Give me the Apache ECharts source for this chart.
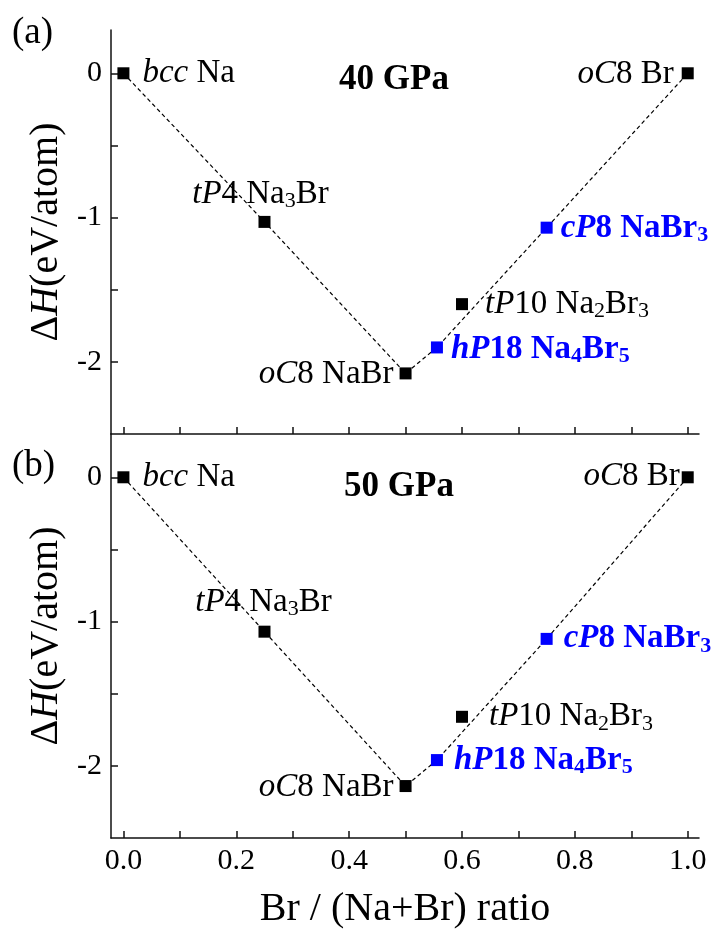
<!DOCTYPE html>
<html><head><meta charset="utf-8">
<script src="https://cdn.jsdelivr.net/npm/echarts@6/dist/echarts.min.js"></script>
<style>html,body{margin:0;padding:0;background:#fff}#c{width:714px;height:935px}</style>
</head><body><div id="c"></div>
<script>
// ---- data ----
const ratio   = [0, 0.25, 0.5, 0.5556, 0.6, 0.75, 1.0];
const dH40    = [0, -1.03, -2.08, -1.90, -1.60, -1.07, 0];
const dH50    = [0, -1.07, -2.14, -1.96, -1.66, -1.12, 0];
const onHull  = [true, true, true, true, false, true, true];
const isNew   = [false, false, false, true, false, true, false];
const phaseLabels = [
  '{i|bcc} Na',
  '{i|tP}4 Na{s|3}Br',
  '{i|oC}8 NaBr',
  '{bi|hP}{b|18 Na}{bs|4}{b|Br}{bs|5}',
  '{i|tP}10 Na{s|2}Br{s|3}',
  '{bi|cP}{b|8 NaBr}{bs|3}',
  '{i|oC}8 Br'
];
const xTickValues  = [0, 0.1, 0.2, 0.3, 0.4, 0.5, 0.6, 0.7, 0.8, 0.9, 1.0];
const xLabelValues = [0, 0.2, 0.4, 0.6, 0.8, 1.0];
const yTickValues  = [0, -0.5, -1, -1.5, -2];
const yLabelValues = [0, -1, -2];
const panelTitles  = ['40 GPa', '50 GPa'];
const panelTags    = ['(a)', '(b)'];
const xName = 'Br / (Na+Br) ratio';

// ---- styles / layout ----
const FONT = '"Liberation Serif", "Times New Roman", serif';
const BLUE = '#0000ff';
const labelLayout = [
  [ {p:'right',d:13,o:[0,0]}, {p:'top',d:4,o:[-4,0]}, {p:'left',d:6,o:[0,1]},
    {p:'right',d:8,o:[0,2]}, {p:'right',d:17,o:[0,0]}, {p:'right',d:8,o:[0,1]}, {p:'left',d:8,o:[0,1]} ],
  [ {p:'right',d:13,o:[0,0]}, {p:'top',d:5,o:[-1,0]}, {p:'left',d:6,o:[0,1]},
    {p:'right',d:11,o:[0,0]}, {p:'right',d:21,o:[0,0]}, {p:'right',d:11,o:[0,0]}, {p:'left',d:2,o:[0,-1]} ]
];
function richFor(color){
  return {
    i:{fontFamily:FONT,fontSize:33,fontStyle:'italic',color:color,lineHeight:36},
    s:{fontFamily:FONT,fontSize:22,color:color,lineHeight:31,verticalAlign:'bottom'},
    b:{fontFamily:FONT,fontSize:33,fontWeight:'bold',color:color,lineHeight:36},
    bi:{fontFamily:FONT,fontSize:33,fontWeight:'bold',fontStyle:'italic',color:color,lineHeight:36},
    bs:{fontFamily:FONT,fontSize:22,fontWeight:'bold',color:color,lineHeight:31,verticalAlign:'bottom'}
  };
}
const grids = [
  {left:111, width:588, top:30, height:404},
  {left:111, width:588, top:434, height:404}
];
const axisLineStyle = {color:'#111', width:1.5};

const xAxes = [0,1].map(g => ({
  type:'value', gridIndex:g, min:-0.022, max:1.02,
  axisLine:{show:true, onZero:false, lineStyle:axisLineStyle},
  axisTick:{show:true, inside:true, length:7, customValues:xTickValues, lineStyle:axisLineStyle},
  axisLabel:{show:g===1, customValues:xLabelValues, margin:8,
    fontFamily:FONT, fontSize:30, color:'#000',
    formatter:v=>v.toFixed(1)},
  splitLine:{show:false},
  name: g===1 ? xName : '', nameLocation:'middle', nameGap:51,
  nameTextStyle:{fontFamily:FONT, fontSize:40, color:'#000'}
}));
const yAxes = [0,1].map(g => ({
  type:'value', gridIndex:g, min:-2.5, max:0.3,
  axisLine:{show:true, onZero:false, lineStyle:axisLineStyle},
  axisTick:{show:true, inside:true, length:7, customValues:yTickValues, lineStyle:axisLineStyle},
  axisLabel:{show:true, customValues:yLabelValues, margin:9,
    fontFamily:FONT, fontSize:30, color:'#000', formatter:v=>String(v)},
  splitLine:{show:false},
  name:'{n|Δ}{i|H}{n|(eV/atom)}', nameLocation:'middle', nameGap:43,
  nameTextStyle:{fontFamily:FONT, fontSize:40, color:'#000', rich:{
    n:{fontFamily:FONT, fontSize:40, color:'#000'},
    i:{fontFamily:FONT, fontSize:40, fontStyle:'italic', color:'#000'}
  }}
}));

const series = [];
[dH40, dH50].forEach((vals, g) => {
  series.push({
    type:'line', xAxisIndex:g, yAxisIndex:g, symbol:'none', silent:true, z:1,
    lineStyle:{color:'#000', width:1.2, type:[4,3], opacity:1},
    data: ratio.map((x,i)=>[x, vals[i]]).filter((_,i)=>onHull[i])
  });
  series.push({
    type:'scatter', xAxisIndex:g, yAxisIndex:g, symbol:'rect', symbolSize:12, z:3,
    itemStyle:{opacity:1},
    data: ratio.map((x,i)=>{
      const lay = labelLayout[g][i];
      const col = isNew[i] ? BLUE : '#000';
      return {
        value:[x, vals[i]],
        itemStyle:{color:col, opacity:1},
        label:{show:true, position:lay.p, distance:lay.d, offset:lay.o,
          formatter: phaseLabels[i], opacity:1,
          fontFamily:FONT, fontSize:33, lineHeight:36,
          fontWeight: isNew[i] ? 'bold' : 'normal',
          color:col, rich:richFor(col)}
      };
    })
  });
});

const graphic = [
  {type:'text', left:12, top:15, style:{text:panelTags[0], font:'37px '+FONT, fill:'#000'}},
  {type:'text', left:12, top:448, style:{text:panelTags[1], font:'37px '+FONT, fill:'#000'}},
  {type:'text', x:394, y:80, style:{text:panelTitles[0], font:'bold 35px '+FONT, fill:'#000', align:'center', verticalAlign:'middle'}},
  {type:'text', x:399, y:487, style:{text:panelTitles[1], font:'bold 35px '+FONT, fill:'#000', align:'center', verticalAlign:'middle'}}
];

const chart = echarts.init(document.getElementById('c'), null, {renderer:'canvas'});
chart.setOption({
  backgroundColor:'#fff', animation:false,
  grid:grids, xAxis:xAxes, yAxis:yAxes, series:series, graphic:graphic
});
</script></body></html>
